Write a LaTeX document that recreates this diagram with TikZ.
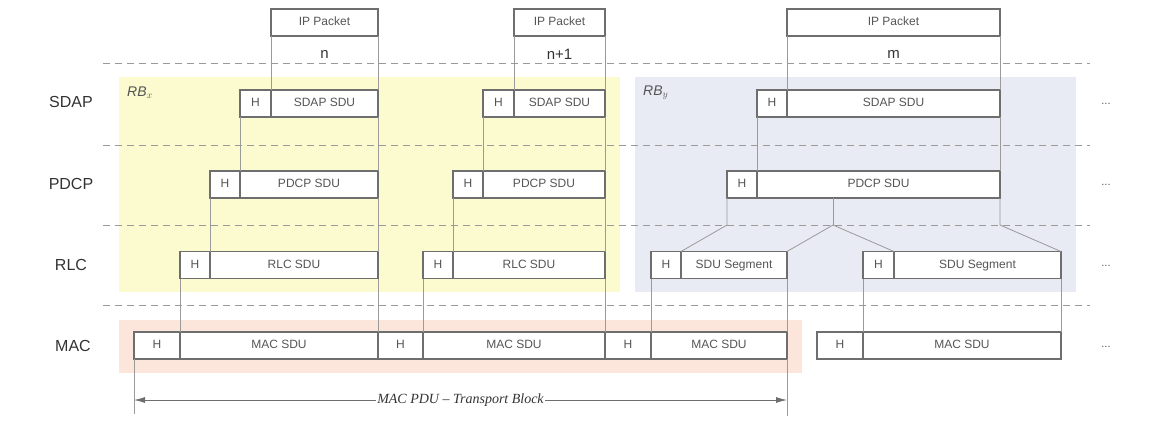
\documentclass[tikz,border=0pt]{standalone}
\usepackage{fontspec}
\setmainfont{Liberation Sans}
\newfontfamily\serifit{Liberation Serif}
\usetikzlibrary{arrows.meta}
\definecolor{bgyellow}{HTML}{FBFBCF}
\definecolor{bgblue}{HTML}{E9EBF4}
\definecolor{bgpeach}{HTML}{FCE6DC}
\definecolor{boxline}{HTML}{6E6E6E}
\definecolor{conline}{HTML}{9A9A9A}
\definecolor{boxtext}{HTML}{555555}
\definecolor{labtext}{HTML}{333333}
\tikzset{
  cell/.style={draw=boxline, line width=1.1pt, fill=white, minimum height=27pt, inner sep=0pt, outer sep=0pt,
     text=boxtext, text height=8.8pt, text depth=2.4pt, font=\fontsize{12}{14}\selectfont},
  conn/.style={draw=conline, line width=0.8pt},
  layer/.style={text=labtext, font=\fontsize{16}{18}\selectfont},
  seqlab/.style={text=labtext, font=\fontsize{15}{17}\selectfont},
  sep/.style={draw=conline, line width=0.9pt, dash pattern=on 7pt off 5pt},
  dots/.style={text=boxtext, font=\fontsize{11}{13}\selectfont},
  rblab/.style={text=boxtext, font=\fontsize{14}{16}\selectfont, anchor=west, inner sep=0pt},
}
\begin{document}
\begin{tikzpicture}[x=1pt,y=-1pt]
\useasboundingbox (0,0) rectangle (1152,428);
% backgrounds
\fill[bgyellow] (119,77) rectangle (620,292);
\fill[bgblue] (635,77) rectangle (1076,292);
\fill[bgpeach] (119,320) rectangle (802,373);
% separators
\draw[sep] (103,63) -- (1090,63);
\draw[sep] (103,145) -- (1090,145);
\draw[sep] (103,225) -- (1090,225);
\draw[sep] (103,305) -- (1090,305);
% layer labels
\node[layer] (lsdap) at (71,102) {SDAP};
\node[layer] (lpdcp) at (71,184) {PDCP};
\node[layer] (lrlc) at (71,265) {RLC};
\node[layer] (lmac) at (73,346) {MAC};
% RB labels
\node[rblab] (rbx) at (127,93) {$\mathit{RB}_x$};
\node[rblab] (rby) at (643,93) {$\mathit{RB}_y$};
% IP packets
\node[cell, minimum width=107pt] (ip1) at (324.5,22.5) {IP Packet};
\node[cell, minimum width=91pt] (ip2) at (559.5,22.5) {IP Packet};
\node[cell, minimum width=213pt] (ip3) at (893.5,22.5) {IP Packet};
\node[seqlab] (n1) at (324.5,54) {n};
\node[seqlab] (n2) at (559.5,54) {n+1};
\node[seqlab] (n3) at (893.5,54) {m};
% SDAP
\node[cell, minimum width=31pt] (sh1) at (255.5,103.5) {H};
\node[cell, minimum width=107pt] (ss1) at (324.5,103.5) {SDAP SDU};
\node[cell, minimum width=31pt] (sh2) at (498.5,103.5) {H};
\node[cell, minimum width=91pt] (ss2) at (559.5,103.5) {SDAP SDU};
\node[cell, minimum width=30pt] (sh3) at (772,103.5) {H};
\node[cell, minimum width=213pt] (ss3) at (893.5,103.5) {SDAP SDU};
% PDCP
\node[cell, minimum width=30pt] (ph1) at (225,184.5) {H};
\node[cell, minimum width=138pt] (ps1) at (309,184.5) {PDCP SDU};
\node[cell, minimum width=30pt] (ph2) at (468,184.5) {H};
\node[cell, minimum width=122pt] (ps2) at (544,184.5) {PDCP SDU};
\node[cell, minimum width=30pt] (ph3) at (742,184.5) {H};
\node[cell, minimum width=243pt] (ps3) at (878.5,184.5) {PDCP SDU};
% RLC
\node[cell, minimum width=30pt] (rh1) at (195,265) {H};
\node[cell, minimum width=168pt] (rs1) at (294,265) {RLC SDU};
\node[cell, minimum width=30pt] (rh2) at (438,265) {H};
\node[cell, minimum width=152pt] (rs2) at (529,265) {RLC SDU};
\node[cell, minimum width=30pt] (gh1) at (666,265) {H};
\node[cell, minimum width=106pt] (gs1) at (734,265) {SDU Segment};
\node[cell, minimum width=31pt] (gh2) at (878.5,265) {H};
\node[cell, minimum width=167pt] (gs2) at (977.5,265) {SDU Segment};
% MAC
\node[cell, minimum width=46pt] (mh1) at (157,345.5) {H};
\node[cell, minimum width=198pt] (ms1) at (279,345.5) {MAC SDU};
\node[cell, minimum width=45pt] (mh2) at (400.5,345.5) {H};
\node[cell, minimum width=182pt] (ms2) at (514,345.5) {MAC SDU};
\node[cell, minimum width=46pt] (mh3) at (628,345.5) {H};
\node[cell, minimum width=136pt] (ms3) at (719,345.5) {MAC SDU};
\node[cell, minimum width=46pt] (mh4) at (840,345.5) {H};
\node[cell, minimum width=198pt] (ms4) at (962,345.5) {MAC SDU};
% dots
\node[dots] (d1) at (1106,104) {...};
\node[dots] (d2) at (1106,185) {...};
\node[dots] (d3) at (1106,266) {...};
\node[dots] (d4) at (1106,347) {...};
% connectors
\draw[conn] (ip1.south west) -- (ss1.north west);
\draw[conn] (ip1.south east) -- (ss1.north east);
\draw[conn] (ip2.south west) -- (ss2.north west);
\draw[conn] (ip2.south east) -- (ss2.north east);
\draw[conn] (ip3.south west) -- (ss3.north west);
\draw[conn] (ip3.south east) -- (ss3.north east);
\draw[conn] (sh1.south west) -- (ps1.north west);
\draw[conn] (ss1.south east) -- (ps1.north east);
\draw[conn] (sh2.south west) -- (ps2.north west);
\draw[conn] (ss2.south east) -- (ps2.north east);
\draw[conn] (sh3.south west) -- (ps3.north west);
\draw[conn] (ss3.south east) -- (ps3.north east);
\draw[conn] (ph1.south west) -- (rs1.north west);
\draw[conn] (ps1.south east) -- (rs1.north east);
\draw[conn] (ph2.south west) -- (rs2.north west);
\draw[conn] (ps2.south east) -- (rs2.north east);
\coordinate (spa) at (727,225);
\coordinate (spt) at (833,198);
\coordinate (spm) at (833,225);
\coordinate (spb) at (1000,225);
\draw[conn] (ph3.south west) -- (spa) -- (gs1.north west);
\draw[conn] (spt) -- (spm);
\draw[conn] (spm) -- (gs1.north east);
\draw[conn] (spm) -- (gs2.north west);
\draw[conn] (ps3.south east) -- (spb) -- (gs2.north east);
\draw[conn] (rh1.south west) -- (ms1.north west);
\draw[conn] (rs1.south east) -- (ms1.north east);
\draw[conn] (rh2.south west) -- (ms2.north west);
\draw[conn] (rs2.south east) -- (ms2.north east);
\draw[conn] (gh1.south west) -- (ms3.north west);
\draw[conn] (gs1.south east) -- (ms3.north east);
\draw[conn] (gh2.south west) -- (ms4.north west);
\draw[conn] (gs2.south east) -- (ms4.north east);
% transport block arrow
\coordinate (tl) at (134,414);
\coordinate (tr) at (787,416);
\draw[conn] (mh1.south west) -- (tl);
\draw[conn] (ms3.south east) -- (tr);
\coordinate (al) at (134,400);
\coordinate (ar) at (787,400);
\draw[draw=boxline, line width=0.8pt, {Latex[length=11pt,width=6pt]}-{Latex[length=11pt,width=6pt]}] (al) -- (ar)
  node[midway, fill=white, inner sep=1pt, text=labtext, font=\serifit\itshape\fontsize{14}{16}\selectfont] (tb) {MAC PDU – Transport Block};
\end{tikzpicture}
\end{document}
